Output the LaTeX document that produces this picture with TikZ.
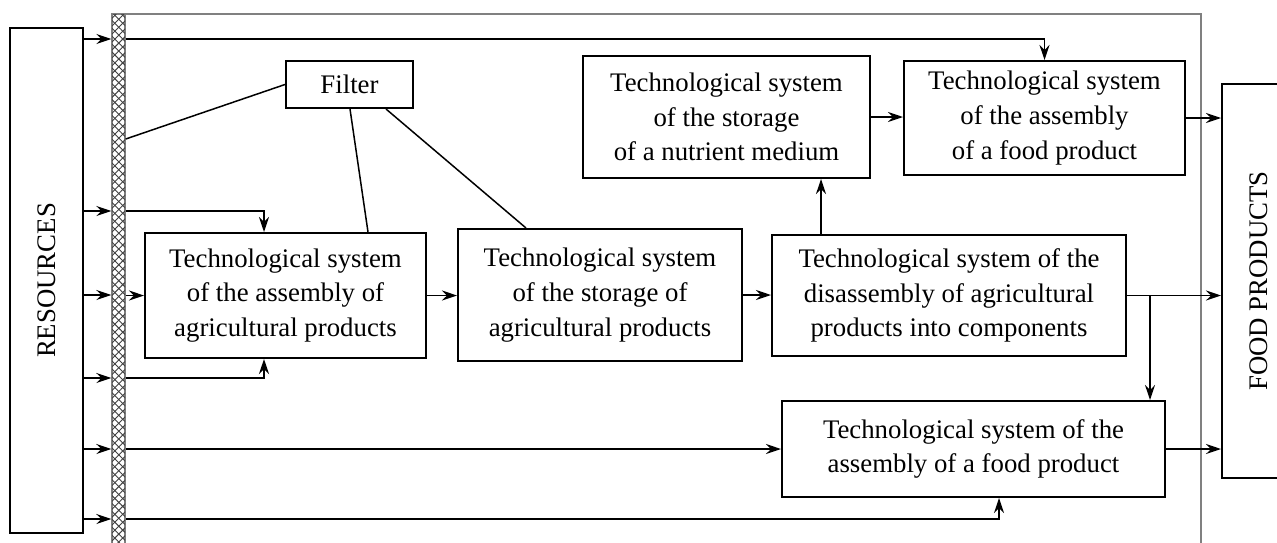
\documentclass[tikz,border=0pt]{standalone}
\usepackage{fontspec}
\setmainfont{Liberation Serif}
\usetikzlibrary{arrows.meta,patterns.meta}

\begin{document}
\begin{tikzpicture}[x=0.5pt, y=-0.5pt,
    every node/.style={font=\fontsize{13.4}{17.3}\selectfont},
    sysbox/.style={draw, line width=1pt, align=center, inner sep=0pt},
    arr/.style={-{Stealth[length=7.5pt,width=5pt,inset=2.5pt]}},
    link/.style={line width=0.75pt}]
    \useasboundingbox (0,0) rectangle (1277,542);
    \clip (0,0) rectangle (1277,542);

    % outer blocks
    \node[sysbox, minimum width=36.5pt, minimum height=252.5pt] (res) at (46.5,280.5) {\rotatebox{90}{RESOURCES}};
    \node[sysbox, minimum width=37pt, minimum height=197pt] (food) at (1259,281) {\rotatebox{90}{FOOD PRODUCTS}};

    % hatched boundary and frame
    \draw[gray, line width=1pt] (118.5,14) -- (1201,14) -- (1201,560);
    \node[draw=gray, line width=0.7pt, fill=white, inner sep=0pt,
          minimum width=6.5pt, minimum height=273pt,
          postaction={pattern={Lines[angle=45,distance=2.8pt,line width=0.45pt]}, pattern color=black!75},
          postaction={pattern={Lines[angle=-45,distance=2.8pt,line width=0.45pt]}, pattern color=black!75}] (bar) at (118.5,287) {};

    % systems
    \node[sysbox, minimum width=63.5pt, minimum height=23.5pt] (filt) at (349.5,84.5) {Filter};
    \node[sysbox, minimum width=140.5pt, minimum height=62.5pt] (asmag) at (285.5,295.5)
        {Technological system\\ of the assembly of\\ agricultural products};
    \node[sysbox, minimum width=142pt, minimum height=66pt] (storag) at (600,295)
        {Technological system\\ of the storage of\\ agricultural products};
    \node[sysbox, minimum width=177pt, minimum height=60.5pt] (disas) at (949,295.5)
        {Technological system of the\\ disassembly of agricultural\\ products into components};
    \node[sysbox, minimum width=143.5pt, minimum height=61pt] (nutr) at (726.5,117)
        {Technological system\\ of the storage\\ of a nutrient medium};
    \node[sysbox, minimum width=140.5pt, minimum height=57pt] (asmfood1) at (1044.5,118)
        {Technological system\\ of the assembly\\ of a food product};
    \node[sysbox, minimum width=191.5pt, minimum height=48pt] (asmfood2) at (973.5,449)
        {Technological system of the\\ assembly of a food product};

    % resources into the boundary
    \foreach \yy in {39,211,295,378,449,519}
        \draw[link, arr] (res.east |- 0,\yy) -- (bar.west |- 0,\yy);

    % flows
    \draw[link, arr] (bar.east |- 0,39) -| (asmfood1.north);
    \draw[link] (bar.east |- 0,139) -- (filt.west);
    \draw[link] ([xshift=0.25pt]filt.south) -- ([xshift=41.25pt]asmag.north);
    \draw[link] ([xshift=18.25pt]filt.south) -- ([xshift=-37pt]storag.north);
    \draw[link, arr] (bar.east |- 0,211) -| ([xshift=-10.75pt]asmag.north);
    \draw[link, arr] (bar.east |- asmag.west) -- (asmag.west);
    \draw[link, arr, line width=1.3pt] (bar.east |- 0,378) -| ([xshift=-10.75pt]asmag.south);
    \draw[link, arr] (asmag.east) -- (asmag.east -| storag.west);
    \draw[link, arr] (storag.east) -- (storag.east -| disas.west);
    \draw[link, arr] ([xshift=-64pt]disas.north) -- ([xshift=-64pt]disas.north |- nutr.south);
    \draw[link, arr] (nutr.east) -- (nutr.east -| asmfood1.west);
    \draw[link, arr] (asmfood1.east) -- (asmfood1.east -| food.west);
    \draw[link, arr] (disas.east) -- (disas.east -| food.west);
    \coordinate (split) at ([xshift=11.5pt]disas.east);
    \draw[link, arr] (split) -- (split |- asmfood2.north);
    \draw[link, arr] (bar.east |- asmfood2.west) -- (asmfood2.west);
    \draw[link, arr] (asmfood2.east) -- (asmfood2.east -| food.west);
    \draw[link, arr] (bar.east |- 0,519) -| ([xshift=12.75pt]asmfood2.south);

\end{tikzpicture}
\end{document}
